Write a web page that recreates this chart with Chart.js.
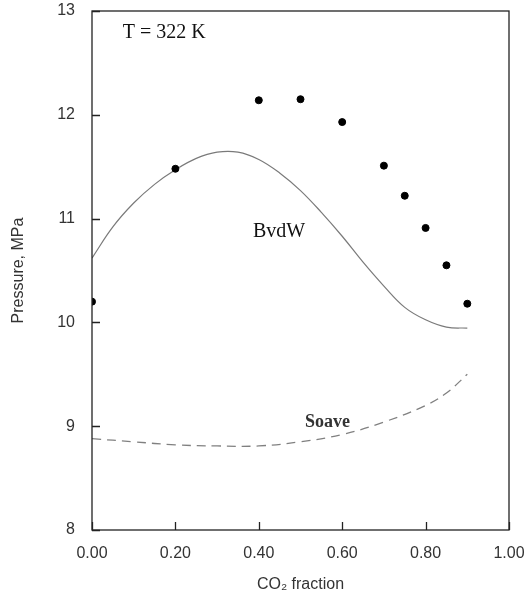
<!DOCTYPE html>
<html><head><meta charset="utf-8">
<script src="https://cdn.jsdelivr.net/npm/chart.js@4/dist/chart.umd.min.js"></script>
<style>html,body{margin:0;padding:0;background:#fff}#wrap{width:525px;height:599px}</style>
</head><body><div id="wrap"><canvas id="c" width="525" height="599"></canvas></div>
<script>
// Experimental data points
const experimentX = [0.00, 0.20, 0.40, 0.50, 0.60, 0.70, 0.75, 0.80, 0.85, 0.90];
const experimentP = [10.20, 11.48, 12.14, 12.15, 11.93, 11.51, 11.22, 10.91, 10.55, 10.18];
// BvdW model curve
const bvdwX = [0.00, 0.05, 0.10, 0.15, 0.20, 0.25, 0.30, 0.35, 0.40, 0.45, 0.50, 0.55, 0.60, 0.65, 0.70, 0.75, 0.80, 0.85, 0.90];
const bvdwP = [10.62, 10.92, 11.15, 11.33, 11.47, 11.58, 11.64, 11.64, 11.57, 11.44, 11.27, 11.06, 10.83, 10.58, 10.35, 10.145, 10.025, 9.955, 9.945];
// Soave model curve
const soaveX = [0.00, 0.10, 0.20, 0.30, 0.40, 0.50, 0.60, 0.70, 0.80, 0.85, 0.90];
const soaveP = [8.88, 8.85, 8.82, 8.81, 8.81, 8.85, 8.92, 9.04, 9.20, 9.32, 9.50];
// Axis ticks
const xTicks = [0.00, 0.20, 0.40, 0.60, 0.80, 1.00];
const yTicks = [8, 9, 10, 11, 12, 13];
// Labels
const tempLabel = 'T = 322 K';
const bvdwLabel = 'BvdW';
const soaveLabel = 'Soave';

const toPts = (xs, ys) => xs.map((x, i) => ({x: x, y: ys[i]}));

const framePlugin = {
  id: 'frame',
  afterDatasetsDraw(chart) {
    const {ctx, chartArea: a, scales} = chart;
    const xs = scales.x, ys = scales.y;
    ctx.save();
    ctx.strokeStyle = '#222';
    ctx.lineWidth = 1.3;
    ctx.strokeRect(a.left, a.top, a.right - a.left, a.bottom - a.top);
    ctx.beginPath();
    yTicks.forEach(v => {
      const py = Math.round(ys.getPixelForValue(v)) + 0.5;
      ctx.moveTo(a.left, py); ctx.lineTo(a.left + 8, py);
    });
    xTicks.forEach(v => {
      const px = Math.round(xs.getPixelForValue(v)) + 0.5;
      ctx.moveTo(px, a.bottom); ctx.lineTo(px, a.bottom - 8);
    });
    ctx.stroke();
    ctx.fillStyle = '#111';
    ctx.textBaseline = 'alphabetic';
    ctx.textAlign = 'left';
    ctx.font = '20px "Liberation Serif", "Times New Roman", serif';
    ctx.fillText(tempLabel, xs.getPixelForValue(0.074), ys.getPixelForValue(12.74));
    ctx.fillText(bvdwLabel, xs.getPixelForValue(0.386), ys.getPixelForValue(10.823));
    ctx.fillStyle = '#333';
    ctx.font = 'bold 18px "Liberation Serif", "Times New Roman", serif';
    ctx.fillText(soaveLabel, xs.getPixelForValue(0.511), ys.getPixelForValue(8.995));
    ctx.restore();
  }
};

const tickFont = {family: '"Liberation Sans", Arial, sans-serif', size: 16};

new Chart(document.getElementById('c'), {
  type: 'scatter',
  data: {
    datasets: [
      {
        label: 'Experiment',
        data: toPts(experimentX, experimentP),
        backgroundColor: '#000',
        borderColor: '#000',
        pointRadius: 3.5,
        pointHoverRadius: 3.5,
        showLine: false
      },
      {
        label: 'BvdW',
        data: toPts(bvdwX, bvdwP),
        showLine: true,
        borderColor: '#7a7a7a',
        borderWidth: 1.2,
        pointRadius: 0,
        tension: 0.4,
        fill: false
      },
      {
        label: 'Soave',
        data: toPts(soaveX, soaveP),
        showLine: true,
        borderColor: '#808080',
        borderWidth: 1.3,
        borderDash: [9, 6],
        pointRadius: 0,
        tension: 0.4,
        fill: false
      }
    ]
  },
  options: {
    responsive: false,
    animation: false,
    devicePixelRatio: 1,
    layout: {padding: {top: 11, right: 16, bottom: 0, left: 0}},
    plugins: {legend: {display: false}, tooltip: {enabled: false}},
    scales: {
      x: {
        type: 'linear', min: 0, max: 1,
        afterBuildTicks: s => { s.ticks = xTicks.map(v => ({value: v})); },
        afterFit: s => { s.height = 69; s.paddingLeft = 0; s.paddingRight = 0; },
        grid: {display: false, drawTicks: false},
        border: {display: false},
        ticks: {
          font: tickFont, color: '#333', padding: 14, maxRotation: 0,
          callback: v => Number(v).toFixed(2)
        },
        title: {display: true, text: 'CO₂ fraction', font: tickFont, color: '#333', padding: {top: 5, bottom: 5}}
      },
      y: {
        type: 'linear', min: 8, max: 13,
        afterBuildTicks: s => { s.ticks = yTicks.map(v => ({value: v})); },
        afterFit: s => { s.width = 92; s.paddingTop = 0; s.paddingBottom = 0; },
        grid: {display: false, drawTicks: false},
        border: {display: false},
        ticks: {font: tickFont, color: '#333', padding: 17, callback: v => String(v)},
        title: {display: true, text: 'Pressure, MPa', font: tickFont, color: '#333', padding: {top: 9, bottom: 9}}
      }
    }
  },
  plugins: [framePlugin]
});
</script>
</body></html>
